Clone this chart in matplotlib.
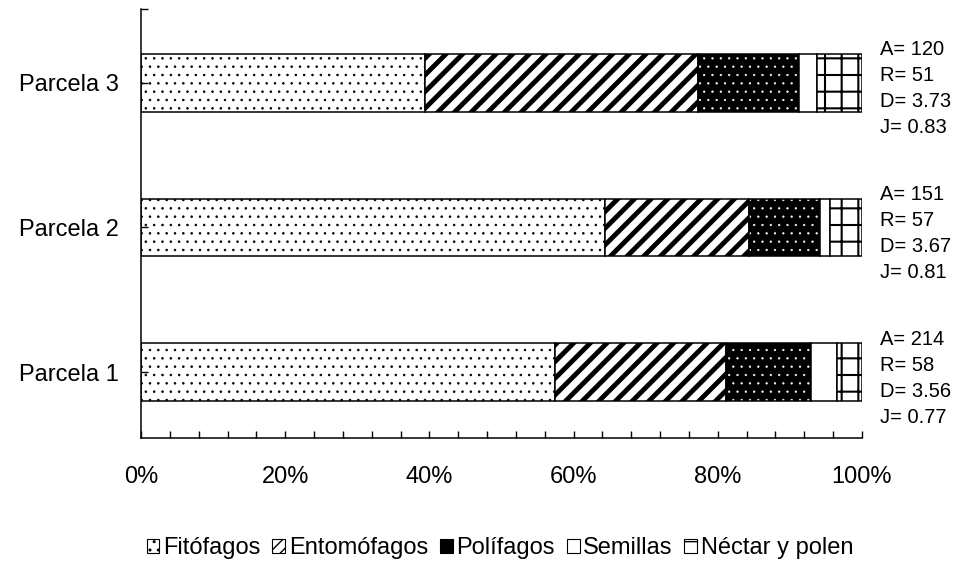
import matplotlib
matplotlib.use('Agg')
import matplotlib.pyplot as plt
from matplotlib.patches import Patch
import numpy as np

plt.rcParams['font.family'] = ['Liberation Sans', 'DejaVu Sans']

# Datos: porcentaje de cada gremio trófico por parcela
parcelas = ['Parcela 1', 'Parcela 2', 'Parcela 3']
fitofagos = [57.4, 64.3, 39.4]
entomofagos = [23.8, 20.0, 37.8]
polifagos = [11.7, 9.9, 14.0]
semillas = [3.6, 1.3, 2.5]
nectar = [3.5, 4.5, 6.3]
gremios = ['Fitófagos', 'Entomófagos', 'Polífagos', 'Semillas', 'Néctar y polen']

# Indices de diversidad a la derecha de cada barra
abundancia = [214, 151, 120]
riqueza = [58, 57, 51]
diversidad = ['3.56', '3.67', '3.73']
equidad = ['0.77', '0.81', '0.83']


def set_hlw(patch, lw):
    if hasattr(patch, 'set_hatch_linewidth'):
        patch.set_hatch_linewidth(lw)


fig = plt.figure(figsize=(9.58, 5.63), dpi=100)
ax = fig.add_axes([141/958, 125/563, 721/958, 429/563])

y = np.arange(len(parcelas))
h = 0.4
left = np.zeros(len(parcelas))

# Fitófagos: puntos sobre blanco
bars = ax.barh(y, fitofagos, h, left=left, color='white', edgecolor='black',
               hatch='..', linewidth=1.1)
for b in bars:
    set_hlw(b, 0.6)
left += fitofagos

# Entomófagos: rayas diagonales gruesas
bars = ax.barh(y, entomofagos, h, left=left, color='white', edgecolor='black',
               hatch='//', linewidth=1.1)
for b in bars:
    set_hlw(b, 3.5)
left += entomofagos

# Polífagos: negro con puntos blancos
bars = ax.barh(y, polifagos, h, left=left, color='black', edgecolor='white',
               hatch='..', linewidth=0)
for b in bars:
    set_hlw(b, 0.4)
ax.barh(y, polifagos, h, left=left, fill=False, edgecolor='black', linewidth=1.1)
left += polifagos

# Semillas: blanco
ax.barh(y, semillas, h, left=left, color='white', edgecolor='black', linewidth=1.1)
left += semillas

# Néctar y polen: cuadrícula
bars = ax.barh(y, nectar, h, left=left, color='white', edgecolor='black',
               hatch='+', linewidth=1.1)
for b in bars:
    set_hlw(b, 1.5)

ax.set_xlim(0, 100)
ax.set_ylim(-0.455, 2.51)
ax.set_xticks(np.arange(0, 101, 20))
ax.set_xticklabels([f'{v}%' for v in range(0, 101, 20)])
ax.set_xticks(np.arange(0, 101, 4), minor=True)
ax.set_yticks(y)
ax.set_yticklabels(parcelas)
ax.set_yticks([2.51], minor=True)

ax.tick_params(axis='x', which='both', direction='in', length=5, width=1,
               labelsize=17, pad=20)
ax.tick_params(axis='y', which='both', direction='in', length=5, width=1,
               labelsize=17, pad=16)

for s in ['top', 'right']:
    ax.spines[s].set_visible(False)
for s in ['left', 'bottom']:
    ax.spines[s].set_linewidth(1.1)

# Texto de índices
for i in range(len(parcelas)):
    lineas = [f'A= {abundancia[i]}', f'R= {riqueza[i]}',
              f'D= {diversidad[i]}', f'J= {equidad[i]}']
    for k, txt in enumerate(lineas):
        ax.annotate(txt, xy=(100, y[i]), xytext=(18, 36 - 26*k - 3),
                    textcoords='offset pixels', fontsize=14.5,
                    va='center', ha='left', annotation_clip=False)

# Leyenda
handles = [
    Patch(facecolor='white', edgecolor='black', hatch='..', linewidth=0.8),
    Patch(facecolor='white', edgecolor='black', hatch='///', linewidth=0.8),
    Patch(facecolor='black', edgecolor='black', linewidth=0.8),
    Patch(facecolor='white', edgecolor='black', linewidth=0.8),
    Patch(facecolor='white', edgecolor='black', hatch='-', linewidth=0.8),
]
fig.legend(handles, gremios, loc='center', bbox_to_anchor=(500/958, 15/563),
           ncol=5, frameon=False, fontsize=17, handlelength=0.55,
           handleheight=0.55, handletextpad=0.15, columnspacing=0.5)

fig.savefig('out.png', dpi=100)
